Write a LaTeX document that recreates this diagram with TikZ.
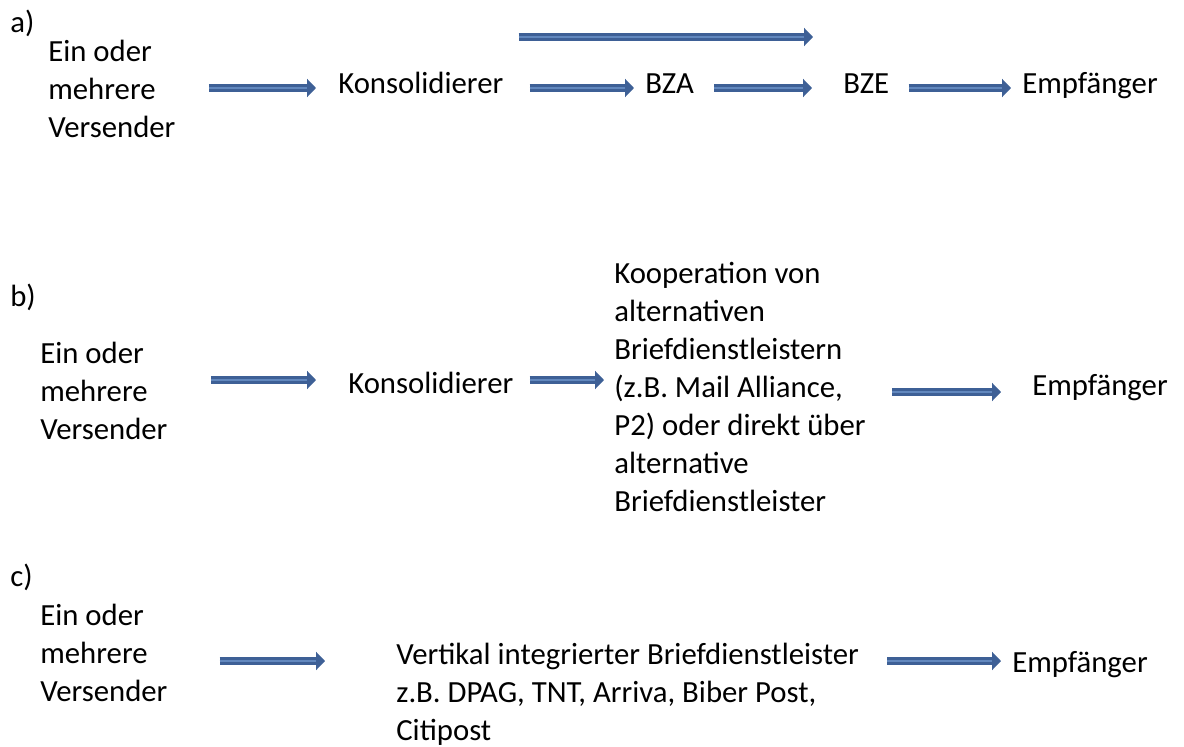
\documentclass[tikz,border=0pt]{standalone}
\usepackage{fontspec}
\setmainfont{Carlito}
\usetikzlibrary{arrows.meta}
\definecolor{arrblue}{RGB}{62,96,150}
\definecolor{arrlight}{RGB}{98,136,190}

\begin{document}
\begin{tikzpicture}[
  x=0.02cm, y=-0.02cm,
  txt/.style={anchor=base west, inner sep=0pt, align=left, font=\fontsize{17.5pt}{21.6pt}\selectfont},
  arr/.style={draw=arrblue, line width=1.5pt, double=arrlight, double distance=1.5pt, -{Triangle[length=5pt, width=10pt]}},
]
\useasboundingbox (0,0) rectangle (1184,747);

% a)
\node [txt] (la) at (10,32) {a)};
\node [txt] (sa) at (48,137) {Ein oder\\mehrere\\Versender};
\node [txt] (ka) at (338,93) {Konsolidierer};
\node [txt] (bza) at (645,93) {BZA};
\node [txt] (bze) at (843,93) {BZE};
\node [txt] (ea) at (1022,93) {Empfänger};
\coordinate (ra) at (0,88);
\coordinate (ta) at (0,37);

\draw [arr, shorten <=0.66cm, shorten >=0.44cm] (sa.east |- ra) -- (ka.west |- ra);
\draw [arr, shorten <=0.30cm, shorten >=0.60cm] (ka.east |- ta) -- (bze.west |- ta);
\draw [arr, shorten <=0.52cm, shorten >=0.22cm] (ka.east |- ra) -- (bza.west |- ra);
\draw [arr, shorten <=0.40cm, shorten >=0.62cm] (bza.east |- ra) -- (bze.west |- ra);
\draw [arr, shorten <=0.38cm, shorten >=0.22cm] (bze.east |- ra) -- (ea.west |- ra);

% b)
\node [txt] (lb) at (10,306) {b)};
\node [txt] (sb) at (40,439) {Ein oder\\mehrere\\Versender};
\node [txt] (kb) at (348,393) {Konsolidierer};
\node [txt] (cb) at (614,511) {Kooperation von\\alternativen\\Briefdienstleistern\\(z.B. Mail Alliance,\\P2) oder direkt über\\alternative\\Briefdienstleister};
\node [txt] (eb) at (1032,395) {Empfänger};
\coordinate (rb) at (0,380);
\coordinate (rb2) at (0,392);

\draw [arr, shorten <=0.86cm, shorten >=0.64cm] (sb.east |- rb) -- (kb.west |- rb);
\draw [arr, shorten <=0.32cm, shorten >=0.20cm] (kb.east |- rb) -- (cb.west |- rb);
\draw [arr, shorten <=0.52cm, shorten >=0.62cm] (cb.east |- rb2) -- (eb.west |- rb2);

% c)
\node [txt] (lc) at (10,586) {c)};
\node [txt] (sc) at (40,701) {Ein oder\\mehrere\\Versender};
\node [txt] (vc) at (396,740) {Vertikal integrierter Briefdienstleister\\z.B. DPAG, TNT, Arriva, Biber Post,\\Citipost};
\node [txt] (ec) at (1012,672) {Empfänger};
\coordinate (rc) at (0,661);

\draw [arr, shorten <=1.04cm, shorten >=1.42cm] (sc.east |- rc) -- (vc.west |- rc);
\draw [arr, shorten <=0.56cm, shorten >=0.22cm] (vc.east |- rc) -- (ec.west |- rc);

\end{tikzpicture}
\end{document}
